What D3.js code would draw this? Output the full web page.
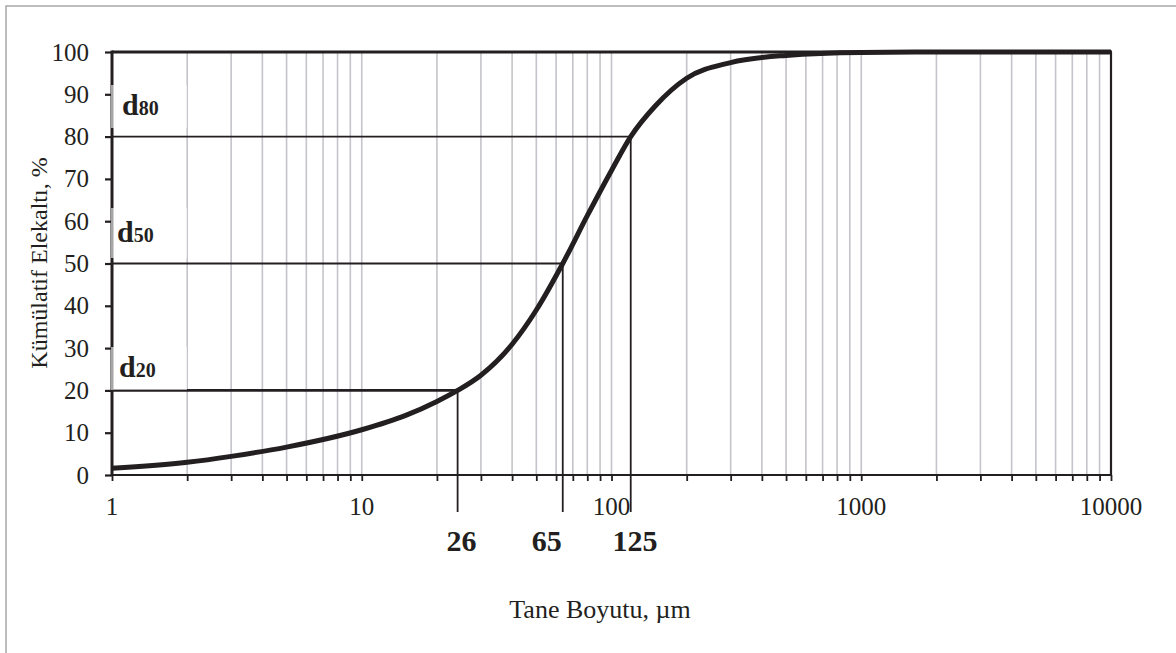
<!DOCTYPE html>
<html>
<head>
<meta charset="utf-8">
<script src="https://cdn.jsdelivr.net/npm/d3@7"></script>
<style>
  html, body { margin: 0; padding: 0; background: #fff; }
  svg { display: block; font-family: "Liberation Serif", "Times New Roman", serif; }
</style>
</head>
<body>
<svg id="chart" width="1176" height="653"></svg>
<script>
// ---- data ----
const sizes   = [1, 2, 3, 5, 10, 15, 20, 24.2, 30, 40, 50, 63.8, 80, 100, 119.4, 150, 200, 300, 500, 1000, 2000, 10000];
const passing = [1.6, 3.0, 4.4, 6.6, 10.7, 14.1, 17.4, 20, 23.6, 30.9, 39.0, 50, 61.3, 72, 80, 87.3, 93.8, 97.5, 99.2, 99.9, 100, 100];
const dPercents   = [20, 50, 80];
const dSizes      = [24.2, 63.8, 119.4];
const dValueText  = ["26", "65", "125"];
const dLabelAt    = [25.1, 55, 124.2];
const dNames      = ["20", "50", "80"];
const yTicks      = [0, 10, 20, 30, 40, 50, 60, 70, 80, 90, 100];
const xTickLabels = [1, 10, 100, 1000, 10000];
const xTitle = "Tane Boyutu, µm";
const yTitle = "Kümülatif Elekaltı, %";

// ---- scales ----
const svg = d3.select("#chart");
const x = d3.scaleLog().domain([1, 10000]).range([112, 1111]);
const y = d3.scaleLinear().domain([0, 100]).range([475, 52]);

// outer frame
svg.append("rect").attr("x", 6).attr("y", 6).attr("width", 1200).attr("height", 700)
  .attr("fill", "none").attr("stroke", "#9a9a9a").attr("stroke-width", 1.3);

// minor/major grid values
const gridVals = [];
for (let e = 0; e < 4; e++) for (let m = 1; m <= 9; m++) {
  const v = m * Math.pow(10, e);
  if (v > 1 && v < 10000) gridVals.push(v);
}
svg.append("g").selectAll("line").data(gridVals).join("line")
  .attr("x1", d => x(d)).attr("x2", d => x(d))
  .attr("y1", y(100)).attr("y2", y(0))
  .attr("stroke", "#c4c4ca").attr("stroke-width", 1.6);

// x axis ticks (down)
const xAxis = d3.axisBottom(x).tickValues([1].concat(gridVals).concat([10000]))
  .tickSize(6).tickFormat("");
const gx = svg.append("g").attr("transform", `translate(0,${y(0)})`).call(xAxis);
gx.select(".domain").remove();
gx.selectAll(".tick line").attr("stroke", "#231f20").attr("stroke-width", 1.8);

// x tick labels
svg.append("g").selectAll("text").data(xTickLabels).join("text")
  .attr("x", d => x(d)).attr("y", 515).attr("text-anchor", "middle")
  .attr("font-size", 25).attr("fill", "#231f20").text(d => d);

// y axis ticks
const yAxis = d3.axisLeft(y).tickValues(yTicks).tickSize(7).tickFormat("");
const gy = svg.append("g").attr("transform", `translate(${x(1)},0)`).call(yAxis);
gy.select(".domain").remove();
gy.selectAll(".tick line").attr("stroke", "#231f20").attr("stroke-width", 2.2);

svg.append("g").selectAll("text").data(yTicks).join("text")
  .attr("x", 89).attr("y", d => y(d) + 8.5).attr("text-anchor", "end")
  .attr("font-size", 25).attr("fill", "#231f20").text(d => d);

// plot frame
svg.append("line").attr("x1", x(1)).attr("x2", x(10000)).attr("y1", y(0)).attr("y2", y(0))
  .attr("stroke", "#231f20").attr("stroke-width", 2);
svg.append("line").attr("x1", x(10000)).attr("x2", x(10000)).attr("y1", y(100)).attr("y2", y(0))
  .attr("stroke", "#231f20").attr("stroke-width", 2.2);
svg.append("line").attr("x1", x(1)).attr("x2", x(10000) + 1).attr("y1", y(100)).attr("y2", y(100))
  .attr("stroke", "#231f20").attr("stroke-width", 3);
svg.append("line").attr("x1", x(1)).attr("x2", x(1)).attr("y1", y(100) - 1.5).attr("y2", y(0) + 1)
  .attr("stroke", "#231f20").attr("stroke-width", 3);

// d lines
const dWidths = [2.8, 1.8, 1.8];
dPercents.forEach((p, i) => {
  svg.append("line").attr("x1", x(1)).attr("x2", x(dSizes[i]))
    .attr("y1", y(p)).attr("y2", y(p))
    .attr("stroke", "#231f20").attr("stroke-width", dWidths[i]);
  svg.append("line").attr("x1", x(dSizes[i])).attr("x2", x(dSizes[i]))
    .attr("y1", y(p)).attr("y2", 512)
    .attr("stroke", "#231f20").attr("stroke-width", 1.8);
  svg.append("text").attr("x", x(dLabelAt[i])).attr("y", 551)
    .attr("text-anchor", "middle").attr("font-size", 30).attr("font-weight", "bold")
    .attr("fill", "#231f20").text(dValueText[i]);
});

// curve
const pts = sizes.map((s, i) => [s, passing[i]]);
svg.append("path").datum(pts)
  .attr("d", d3.line().x(d => x(d[0])).y(d => y(d[1])).curve(d3.curveMonotoneX))
  .attr("fill", "none").attr("stroke", "#231f20").attr("stroke-width", 5)
  .attr("stroke-linecap", "butt");

// d labels with semi-transparent white boxes
const boxTops = [347, 208, 85];
const boxBottoms = [390, 258, 128];
const labelBase = [377, 242, 115];
const labelX = [119, 117, 122];
dNames.forEach((n, i) => {
  svg.append("rect").attr("x", x(1) - 1).attr("y", boxTops[i])
    .attr("width", 76).attr("height", boxBottoms[i] - boxTops[i])
    .attr("fill", "#fff").attr("opacity", 0.6);
  const t = svg.append("text").attr("x", labelX[i]).attr("y", labelBase[i])
    .attr("font-weight", "bold").attr("fill", "#231f20");
  t.append("tspan").attr("font-size", 30).text("d");
  t.append("tspan").attr("font-size", 20).text(n);
});

// titles
svg.append("text").attr("x", 600).attr("y", 618).attr("text-anchor", "middle")
  .attr("font-size", 26).attr("fill", "#231f20").text(xTitle);
svg.append("text").attr("transform", "translate(47,263) rotate(-90)")
  .attr("text-anchor", "middle").attr("font-size", 24).attr("fill", "#231f20").text(yTitle);
</script>
</body>
</html>
